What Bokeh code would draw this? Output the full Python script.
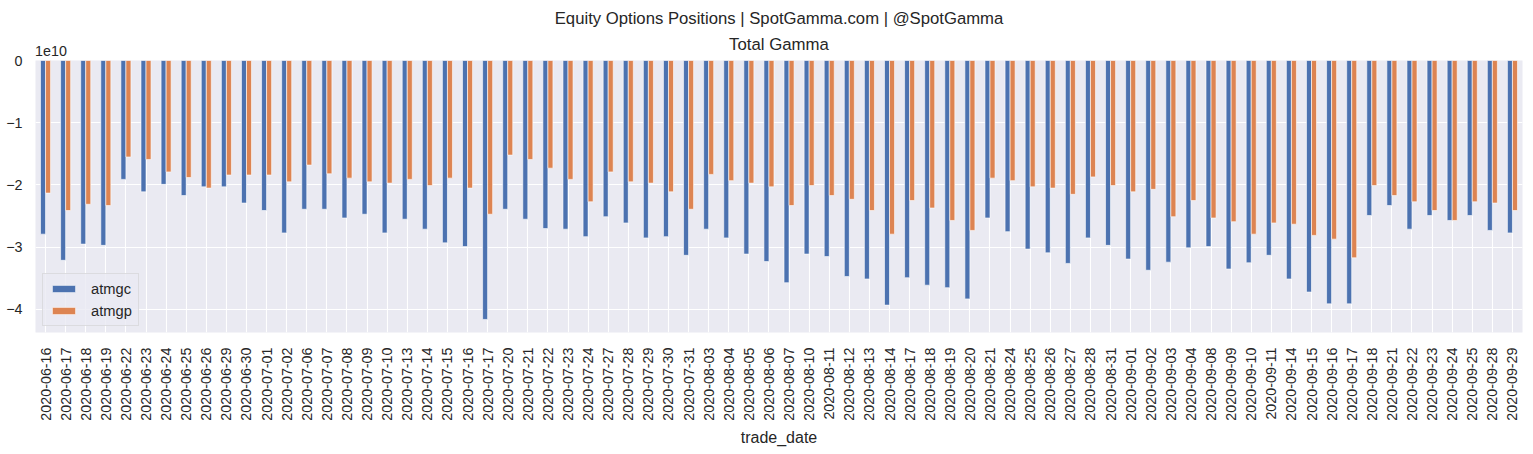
import math
from bokeh.plotting import figure
from bokeh.models import (FactorRange, Range1d, ColumnDataSource, Legend,
                          LegendItem, FixedTicker, LinearAxis, Title)
from bokeh.transform import dodge
from bokeh.embed import file_html
from bokeh.resources import INLINE

# ---- data (values in units of 1e10) ----
dates = [
    "2020-06-16", "2020-06-17", "2020-06-18", "2020-06-19", "2020-06-22", "2020-06-23",
    "2020-06-24", "2020-06-25", "2020-06-26", "2020-06-29", "2020-06-30",
    "2020-07-01", "2020-07-02", "2020-07-06", "2020-07-07", "2020-07-08", "2020-07-09",
    "2020-07-10", "2020-07-13", "2020-07-14", "2020-07-15", "2020-07-16", "2020-07-17",
    "2020-07-20", "2020-07-21", "2020-07-22", "2020-07-23", "2020-07-24", "2020-07-27",
    "2020-07-28", "2020-07-29", "2020-07-30", "2020-07-31",
    "2020-08-03", "2020-08-04", "2020-08-05", "2020-08-06", "2020-08-07", "2020-08-10",
    "2020-08-11", "2020-08-12", "2020-08-13", "2020-08-14", "2020-08-17", "2020-08-18",
    "2020-08-19", "2020-08-20", "2020-08-21", "2020-08-24", "2020-08-25", "2020-08-26",
    "2020-08-27", "2020-08-28", "2020-08-31",
    "2020-09-01", "2020-09-02", "2020-09-03", "2020-09-04", "2020-09-08", "2020-09-09",
    "2020-09-10", "2020-09-11", "2020-09-14", "2020-09-15", "2020-09-16", "2020-09-17",
    "2020-09-18", "2020-09-21", "2020-09-22", "2020-09-23", "2020-09-24", "2020-09-25",
    "2020-09-28", "2020-09-29",
]

atmgc = [
    -2.79, -3.21, -2.95, -2.97, -1.91, -2.11, -1.99, -2.17, -2.03, -2.03, -2.29,
    -2.41, -2.77, -2.39, -2.39, -2.53, -2.47, -2.77, -2.55, -2.71, -2.93, -2.99, -4.16,
    -2.39, -2.55, -2.70, -2.71, -2.83, -2.51, -2.61, -2.85, -2.83, -3.13,
    -2.71, -2.85, -3.11, -3.23, -3.57, -3.11, -3.15, -3.47, -3.51, -3.93, -3.49, -3.61,
    -3.65, -3.83, -2.53, -2.75, -3.03, -3.09, -3.26, -2.85, -2.97,
    -3.19, -3.37, -3.24, -3.01, -2.99, -3.35, -3.25, -3.13, -3.51, -3.72, -3.91, -3.91,
    -2.49, -2.33, -2.71, -2.49, -2.57, -2.49, -2.73, -2.77,
]

atmgp = [
    -2.13, -2.41, -2.31, -2.33, -1.55, -1.59, -1.79, -1.88, -2.05, -1.84, -1.84,
    -1.84, -1.95, -1.68, -1.82, -1.89, -1.95, -1.97, -1.91, -2.01, -1.89, -2.05, -2.47,
    -1.52, -1.59, -1.73, -1.91, -2.27, -1.79, -1.95, -1.97, -2.11, -2.39,
    -1.83, -1.93, -1.97, -2.03, -2.33, -2.01, -2.17, -2.23, -2.41, -2.79, -2.25, -2.37,
    -2.57, -2.73, -1.89, -1.93, -2.03, -2.05, -2.15, -1.87, -2.01,
    -2.11, -2.07, -2.51, -2.25, -2.53, -2.59, -2.79, -2.61, -2.63, -2.81, -2.87, -3.17,
    -2.01, -2.17, -2.27, -2.41, -2.57, -2.27, -2.29, -2.41,
]

series_names = ["atmgc", "atmgp"]
y_ticks = [-4, -3, -2, -1, 0]
suptitle = "Equity Options Positions | SpotGamma.com | @SpotGamma"
title = "Total Gamma"
x_label = "trade_date"
exponent_label = "1e10"

# ---- style ----
FONT = "Liberation Sans"
TXT = "#262626"
BLUE = "#4C72B0"
ORANGE = "#DD8452"
BG = "#EAEAF2"

src = ColumnDataSource(dict(date=dates, atmgc=atmgc, atmgp=atmgp,
                            zero=[0] * len(dates)))

p = figure(x_range=FactorRange(factors=dates), y_range=Range1d(-4.37, 0),
           width=1525, height=450, output_backend="svg", toolbar_location=None,
           min_border_left=35, min_border_right=3, min_border_top=60,
           min_border_bottom=118)

p.background_fill_color = BG
p.border_fill_color = "white"
p.outline_line_color = None
p.title.visible = False

r1 = p.vbar(x=dodge("date", -0.125, range=p.x_range), top="zero", bottom="atmgc",
            width=0.25, source=src, fill_color=BLUE, line_color="white", line_width=0.6)
r2 = p.vbar(x=dodge("date", 0.125, range=p.x_range), top="zero", bottom="atmgp",
            width=0.25, source=src, fill_color=ORANGE, line_color="white", line_width=0.6)

bottom_axis = p.below[0]
left_axis = p.left[0]

# grids
p.xgrid.grid_line_color = "white"
p.ygrid.grid_line_color = "white"
p.xgrid.grid_line_width = 1.1
p.ygrid.grid_line_width = 1.1

# top axis carrying the exponent label (near the left edge) and the subplot title
EXP_POS = 0.77  # position of the exponent text, in category units from the left edge
top_axis = LinearAxis(ticker=FixedTicker(ticks=[EXP_POS]),
                      major_label_overrides={EXP_POS: exponent_label})
p.add_layout(top_axis, "above")

for ax in (bottom_axis, left_axis, top_axis):
    ax.axis_line_color = None
    ax.major_tick_line_color = None
    ax.minor_tick_line_color = None
    ax.major_tick_out = 0
    ax.major_tick_in = 0
    ax.major_label_text_font = FONT
    ax.major_label_text_font_size = "14.3px"
    ax.major_label_text_color = TXT

top_axis.major_label_standoff = 5
top_axis.axis_label = title
top_axis.axis_label_text_font = FONT
top_axis.axis_label_text_font_size = "16.8px"
top_axis.axis_label_text_font_style = "normal"
top_axis.axis_label_text_color = TXT
top_axis.axis_label_standoff = -11

p.add_layout(Title(text=suptitle, align="center", text_font=FONT,
                   text_font_size="16.7px", text_font_style="normal",
                   text_color=TXT, standoff=8), "above")

left_axis.ticker = FixedTicker(ticks=y_ticks)
left_axis.major_label_overrides = {t: (("\u2212" + str(abs(t))) if t < 0 else str(t)) for t in y_ticks}
left_axis.major_label_standoff = 13

bottom_axis.major_label_orientation = math.pi / 2
bottom_axis.major_label_standoff = 15
bottom_axis.axis_label = x_label
bottom_axis.axis_label_text_font = FONT
bottom_axis.axis_label_text_font_size = "16px"
bottom_axis.axis_label_text_font_style = "normal"
bottom_axis.axis_label_text_color = TXT
bottom_axis.axis_label_standoff = 5

legend = Legend(items=[LegendItem(label=series_names[0], renderers=[r1]),
                       LegendItem(label=series_names[1], renderers=[r2])],
                location=(7, 6))
legend.background_fill_color = BG
legend.background_fill_alpha = 0.8
legend.border_line_color = "#CCCCCC"
legend.border_line_width = 1
legend.label_text_font = FONT
legend.label_text_font_size = "14.7px"
legend.label_text_color = TXT
legend.glyph_width = 29
legend.glyph_height = 9
legend.label_height = 17
legend.label_standoff = 13
legend.spacing = 5
legend.padding = 6
legend.margin = 0
p.add_layout(legend, "center")

open("out.html", "w").write(file_html(p, INLINE))
